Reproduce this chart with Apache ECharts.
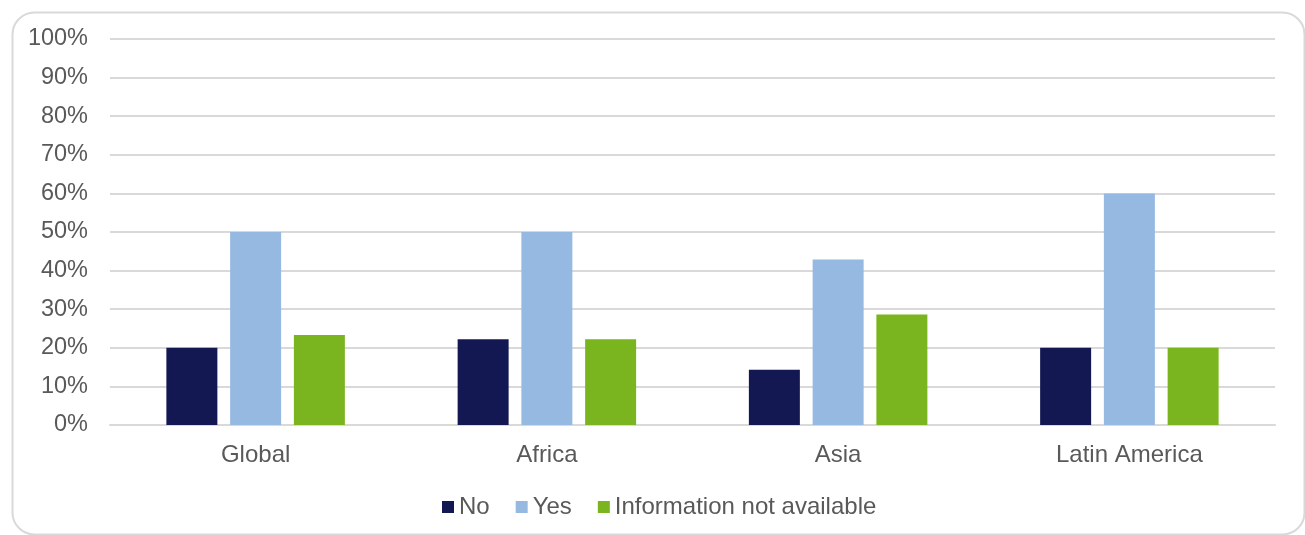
<!DOCTYPE html>
<html>
<head>
<meta charset="utf-8">
<title>Share of countries by region</title>
<script src="https://cdn.jsdelivr.net/npm/echarts@6/dist/echarts.min.js"></script>
<style>
  html, body { margin: 0; padding: 0; background: #ffffff; }
  #chart { width: 1305px; height: 535px; }
</style>
</head>
<body>
<div id="chart"></div>
<script>
// Regions on the category axis
const regions = ['Global', 'Africa', 'Asia', 'Latin America'];

// Share of answers per region (percent)
const seriesNames = ['No', 'Yes', 'Information not available'];
const noValues = [20, 22.2, 14.3, 20];
const yesValues = [50, 50, 42.9, 60];
const naValues = [23.3, 22.2, 28.6, 20];

// Value axis ticks
const yTicks = [0, 10, 20, 30, 40, 50, 60, 70, 80, 90, 100];

const colors = ['#141852', '#96b9e2', '#7ab51f'];
const textColor = '#595959';
const fontFamily = '"Liberation Sans", Arial, sans-serif';

const chart = echarts.init(document.getElementById('chart'), null, { renderer: 'canvas' });

const makeSeries = (name, data, color) => ({
  name: name,
  type: 'bar',
  data: data,
  barWidth: 51,
  barGap: '25%',
  itemStyle: { color: color },
  emphasis: { disabled: true }
});

chart.setOption({
  animation: false,
  backgroundColor: '#ffffff',
  textStyle: { fontFamily: fontFamily },
  graphic: [{
    type: 'rect',
    left: 10,
    top: 10,
    shape: { width: 1292, height: 522, r: 22 },
    style: { fill: 'none', stroke: '#d9d9d9', lineWidth: 2 },
    silent: true,
    z: -10
  }],
  grid: {
    left: 110,
    right: 30,
    top: 39,
    bottom: 110,
    containLabel: false
  },
  legend: {
    data: seriesNames,
    top: 490,
    left: 437,
    itemWidth: 12,
    itemHeight: 12,
    itemGap: 26,
    icon: 'rect',
    textStyle: { color: textColor, fontSize: 24, fontFamily: fontFamily },
    selectedMode: false
  },
  xAxis: {
    type: 'category',
    data: regions,
    axisLine: { show: true, lineStyle: { color: '#d9d9d9', width: 2 } },
    axisTick: { show: false },
    axisLabel: { color: textColor, fontSize: 24, margin: 18, fontFamily: fontFamily }
  },
  yAxis: {
    type: 'value',
    min: yTicks[0],
    max: yTicks[yTicks.length - 1],
    interval: 10,
    axisLine: { show: false },
    axisTick: { show: false },
    splitLine: { lineStyle: { color: '#d9d9d9', width: 2 } },
    axisLabel: {
      color: textColor,
      fontSize: 23.5,
      margin: 22,
      fontFamily: fontFamily,
      formatter: v => v + '%'
    }
  },
  series: [
    makeSeries(seriesNames[0], noValues, colors[0]),
    makeSeries(seriesNames[1], yesValues, colors[1]),
    makeSeries(seriesNames[2], naValues, colors[2])
  ]
});
</script>
</body>
</html>
